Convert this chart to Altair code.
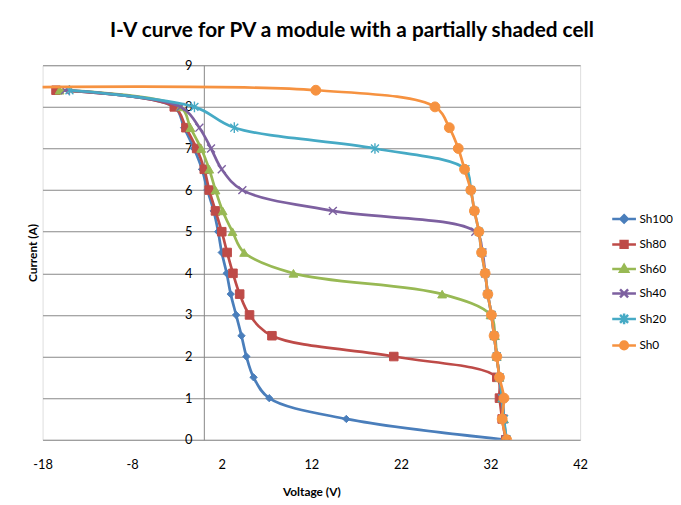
import altair as alt
import pandas as pd

SERIES = ["Sh100", "Sh80", "Sh60", "Sh40", "Sh20", "Sh0"]

CURRENT = [8.4, 8.0, 7.5, 7.0, 6.5, 6.0, 5.5, 5.0, 4.5, 4.0, 3.5, 3.0, 2.5, 2.0, 1.5, 1.0, 0.5, 0.0]
I_SH0 = [8.47, 8.4, 8.0, 7.5, 7.0, 6.5, 6.0, 5.5, 5.0, 4.5, 4.0, 3.5, 3.0, 2.5, 2.0, 1.5, 1.0, 0.5, 0.0]

V_SH100 = [-16.5, -3.3, -2.2, -1.1, -0.2, 0.4, 1.1, 1.6, 2.0, 2.55, 3.0, 3.6, 4.2, 4.75, 5.55, 7.3, 15.9, 33.7]
V_SH80 = [-16.5, -3.3, -2.0, -0.8, 0.05, 0.6, 1.3, 2.0, 2.6, 3.25, 4.0, 5.1, 7.6, 21.2, 32.7, 33.0, 33.3, 33.7]
V_SH60 = [-16.1, -2.6, -1.5, -0.3, 0.6, 1.3, 2.1, 3.2, 4.5, 10.0, 26.6, 32.0, 32.5, 32.7, 33.0, 33.3, 33.5, 33.7]
V_SH40 = [-15.5, -2.6, -0.5, 0.8, 2.0, 4.3, 14.4, 30.3, 31.1, 31.4, 31.7, 32.1, 32.4, 32.7, 33.0, 33.3, 33.5, 33.7]
V_SH20 = [-15.0, -1.05, 3.4, 19.1, 29.2, 29.8, 30.2, 30.7, 31.0, 31.4, 31.7, 32.1, 32.4, 32.7, 33.0, 33.3, 33.5, 33.8]
V_SH0 = [-20.0, 12.5, 25.8, 27.4, 28.4, 29.1, 29.8, 30.2, 30.7, 31.0, 31.4, 31.7, 32.1, 32.4, 32.7, 33.0, 33.5, 33.3, 33.8]

X_TICKS = [-18, -8, 2, 12, 22, 32, 42]
Y_TICKS = [0, 1, 2, 3, 4, 5, 6, 7, 8, 9]

TITLE = "I-V curve for PV a module with a partially shaded cell"
X_TITLE = "Voltage (V)"
Y_TITLE = "Current (A)"

# ---- styles ----
COLORS = ["#4A7EBB", "#BE4B48", "#98B954", "#7D60A0", "#46AAC5", "#F69240"]
MARK_SHAPES = [
    "diamond",
    "square",
    "triangle-up",
    "M-1,-1L1,1M-1,1L1,-1",
    "M-1,-1L1,1M-1,1L1,-1M0,-1.35L0,1.35",
    "circle",
]
MARK_SIZES = [55, 75, 80, 64, 64, 100]
MARK_STROKES = [1, 1, 1, 1.4, 1.4, 1]
LEGEND_SHAPES = [
    "M-1,0L1,0M0,-0.31L0.31,0L0,0.31L-0.31,0Z",
    "M-1,0L1,0M-0.29,-0.29L0.29,-0.29L0.29,0.29L-0.29,0.29Z",
    "M-1,0L1,0M0,-0.34L0.34,0.25L-0.34,0.25Z",
    "M-1,0L1,0M-0.34,-0.34L0.34,0.34M-0.34,0.34L0.34,-0.34",
    "M-1,0L1,0M-0.34,-0.34L0.34,0.34M-0.34,0.34L0.34,-0.34M0,-0.45L0,0.45",
    "M-1,0L1,0M0.32,0A0.32,0.32,0,1,1,-0.32,0A0.32,0.32,0,1,1,0.32,0Z",
]
FONT = "Lato"
GRID = "#868686"

volts = [V_SH100, V_SH80, V_SH60, V_SH40, V_SH20, V_SH0]
currs = [CURRENT, CURRENT, CURRENT, CURRENT, CURRENT, I_SH0]
rows = []
for s, vs, cs in zip(SERIES, volts, currs):
    for k, (v, c) in enumerate(zip(vs, cs)):
        rows.append({"series": s, "V": v, "I": c, "idx": k})
df = pd.DataFrame(rows)

xscale = alt.Scale(domain=[-18, 42], nice=False, zero=False)
yscale = alt.Scale(domain=[0, 9], nice=False, zero=False)

base = alt.Chart(df)

legend = alt.Legend(
    title=None, orient="none", legendX=575, legendY=142,
    symbolSize=576, symbolStrokeWidth=2.5, symbolOpacity=1,
    labelFont=FONT, labelFontSize=12, labelColor="#000", labelOffset=2,
    rowPadding=2.8,
)

xaxis = alt.Axis(
    values=X_TICKS, title=X_TITLE, grid=False, ticks=False, domain=False,
    labelFlush=False, labelPadding=19, titlePadding=15, labelFont=FONT,
    labelExpr="'' + datum.value",
    labelFontSize=13, labelColor="#000", titleFont=FONT, titleFontSize=12,
    titleFontWeight="bold", titleColor="#000")

guide = base.transform_filter(alt.datum.I < -100).mark_point(
    filled=True, opacity=1, size=576
).encode(
    x=alt.X("V:Q", scale=xscale, axis=xaxis),
    y=alt.Y("I:Q", scale=yscale, axis=alt.Axis(
        orient="left", values=Y_TICKS, grid=True, gridColor=GRID, gridWidth=1,
        labels=False, ticks=False, domain=False, title=Y_TITLE, titlePadding=3,
        titleFont=FONT, titleFontSize=12, titleFontWeight="bold", titleColor="#000")),
    shape=alt.Shape("series:N", scale=alt.Scale(domain=SERIES, range=LEGEND_SHAPES), legend=legend),
    fill=alt.Fill("series:N", scale=alt.Scale(domain=SERIES, range=COLORS), legend=legend),
    stroke=alt.Stroke("series:N", scale=alt.Scale(domain=SERIES, range=COLORS), legend=legend),
)

layers = [guide]
for k, s in enumerate(SERIES):
    sub = base.transform_filter(alt.datum.series == s)
    if k == 0:
        yax = alt.Axis(orient="left", values=Y_TICKS, offset=-163.2, grid=False, ticks=False,
                       domain=True, domainColor=GRID, domainWidth=1, labelPadding=12,
                       title=None, labelFont=FONT, labelFontSize=13, labelColor="#000")
    else:
        yax = None
    line = sub.mark_line(
        interpolate="catmull-rom", color=COLORS[k], strokeWidth=2.75, clip=True
    ).encode(
        x=alt.X("V:Q", scale=xscale, axis=xaxis),
        y=alt.Y("I:Q", scale=yscale, axis=yax),
        order="idx:Q",
    )
    pts = sub.mark_point(
        shape=MARK_SHAPES[k], size=MARK_SIZES[k], filled=True, fill=COLORS[k],
        stroke=COLORS[k], strokeWidth=MARK_STROKES[k], opacity=1, clip=True
    ).encode(
        x=alt.X("V:Q", scale=xscale, axis=xaxis),
        y=alt.Y("I:Q", scale=yscale, axis=None),
    )
    layers += [line, pts]

chart = alt.layer(*layers).resolve_axis(y="independent").properties(
    width=544, height=379,
    title=alt.TitleParams(text=TITLE, font=FONT, fontSize=21, fontWeight="bold",
                          color="#000", anchor="middle", offset=19, dx=41),
    autosize=alt.AutoSizeParams(type="none"),
    padding={"left": 35, "top": 55, "right": 94, "bottom": 57},
).configure_view(strokeWidth=0).configure(font=FONT)

chart.save("out.html", embed_options={"renderer": "svg", "actions": False})
